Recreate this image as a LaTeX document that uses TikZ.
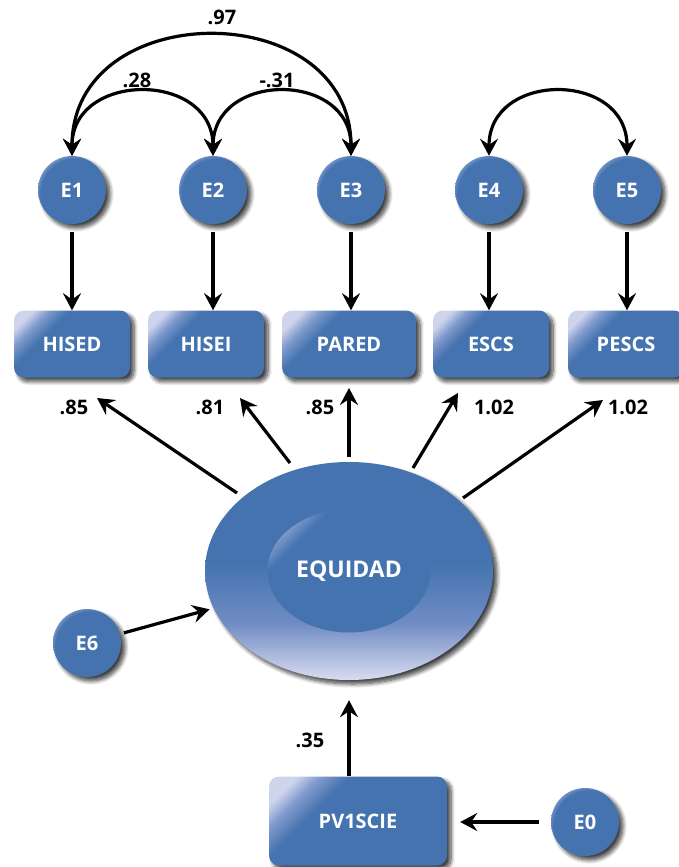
\documentclass[tikz,border=0pt]{standalone}
\usepackage{fontspec}
\setmainfont{Open Sans}
\usetikzlibrary{arrows.meta,shapes.geometric,shadows.blur,calc}

\definecolor{mainblue}{RGB}{68,115,175}
\definecolor{lightblue}{RGB}{205,212,236}
\definecolor{softblue}{RGB}{130,155,205}
\definecolor{rimblue}{RGB}{150,170,215}
\definecolor{midblue}{RGB}{112,140,196}
\definecolor{ellbot}{RGB}{216,220,240}

\pgfdeclareradialshading{ballshade}{\pgfpoint{6bp}{-6bp}}{color(0bp)=(mainblue); color(26bp)=(mainblue); color(31bp)=(rimblue); color(50bp)=(lightblue)}
\pgfdeclarehorizontalshading{boxshade}{100bp}{color(0bp)=(lightblue); color(22bp)=(lightblue); color(28bp)=(softblue); color(36bp)=(mainblue); color(100bp)=(mainblue)}
\pgfdeclarehorizontalshading{innershade}{100bp}{color(0bp)=(rimblue); color(22bp)=(rimblue); color(30bp)=(mainblue); color(100bp)=(mainblue)}
\pgfdeclareverticalshading{ellshade}{100bp}{color(0bp)=(ellbot); color(25bp)=(ellbot); color(38bp)=(midblue); color(52bp)=(mainblue); color(100bp)=(mainblue)}

\tikzset{
  shadowed/.style={blur shadow={shadow xshift=4pt, shadow yshift=-4pt, shadow blur radius=4pt, shadow blur steps=8, shadow opacity=75}},
  errnode/.style={circle, minimum size=68pt, inner sep=0pt, shading=ballshade, text=white,
    font=\bfseries\fontsize{20}{20}\selectfont, shadowed},
  obsbox/.style={rectangle, rounded corners=10pt, minimum width=116pt, minimum height=67pt, inner sep=0pt,
    shading=boxshade, shading angle=-45, text=white, font=\bfseries\fontsize{20}{20}\selectfont, shadowed},
  lab/.style={font=\bfseries\fontsize{20}{20}\selectfont, text=black, inner sep=0pt},
  arr/.style={line width=3.2pt, -{Stealth[length=17pt,width=18pt,inset=6pt]}},
  arrboth/.style={line width=3.2pt, {Stealth[length=17pt,width=18pt,inset=6pt]}-{Stealth[length=17pt,width=18pt,inset=6pt]}},
}

\begin{document}
\begin{tikzpicture}[x=1pt,y=-1pt]
\useasboundingbox (0,0) rectangle (679,867);

% error circles
\node[errnode] (e1) at (72,190) {E1};
\node[errnode] (e2) at (213,190) {E2};
\node[errnode] (e3) at (351,190) {E3};
\node[errnode] (e4) at (489,190) {E4};
\node[errnode] (e5) at (627,190) {E5};
\node[errnode] (e6) at (87,643) {E6};
\node[errnode] (e0) at (585,822) {E0};

% observed boxes
\node[obsbox] (hised) at (72,344) {HISED};
\node[obsbox] (hisei) at (206,344) {HISEI};
\node[obsbox, minimum width=134pt] (pared) at (349,344) {PARED};
\node[obsbox] (escs) at (491,344) {ESCS};
\node[obsbox] (pescs) at (626,344) {PESCS};
\node[obsbox, minimum width=178pt, minimum height=89pt, font=\bfseries\fontsize{20}{20}\selectfont] (pv) at (358,821) {PV1SCIE};

% latent
\node[ellipse, minimum width=288pt, minimum height=218pt, shading=ellshade, shadowed] (eq) at (349,571) {};
\node[ellipse, minimum width=163pt, minimum height=123pt, shading=innershade, shading angle=-45,
  text=white, font=\bfseries\fontsize{23}{23}\selectfont] (eqin) at (349,571) {EQUIDAD};

% covariances
\draw[arrboth] (e1.north) .. controls +(0,-85) and +(0,-85) .. (e2.north);
\draw[arrboth] (e2.north) .. controls +(0,-85) and +(0,-85) .. (e3.north);
\draw[arrboth] (e1.north) .. controls +(0,-160) and +(0,-160) .. (e3.north);
\draw[arrboth] (e4.north) .. controls +(0,-85) and +(0,-85) .. (e5.north);
\node[lab] (c97) at (222,17) {.97};
\node[lab] (c28) at (137,80) {.28};
\node[lab] (c31) at (277,80) {-.31};

% error -> observed
\draw[arr, shorten <=8pt] (e1) -- (e1 |- hised.north);
\draw[arr, shorten <=8pt] (e2) -- (e2 |- hisei.north);
\draw[arr, shorten <=8pt] (e3) -- (e3 |- pared.north);
\draw[arr, shorten <=8pt] (e4) -- (e4 |- escs.north);
\draw[arr, shorten <=8pt] (e5) -- (e5 |- pescs.north);

% latent -> observed
\coordinate (s1) at (237,493); \coordinate (t1) at (97,398);
\coordinate (s2) at (290,463); \coordinate (t2) at (240,398);
\coordinate (s3) at (349,457); \coordinate (t3) at (349,388);
\coordinate (s4) at (413,468); \coordinate (t4) at (458,393);
\coordinate (s5) at (463,498); \coordinate (t5) at (603,400);
\draw[arr] (s1) -- (t1);
\draw[arr] (s2) -- (t2);
\draw[arr] (s3) -- (t3);
\draw[arr] (s4) -- (t4);
\draw[arr] (s5) -- (t5);
\node[lab] (l1) at (74,407) {.85};
\node[lab] (l2) at (210,407) {.81};
\node[lab] (l3) at (320,407) {.85};
\node[lab] (l4) at (494,407) {1.02};
\node[lab] (l5) at (628,407) {1.02};

% E6 -> latent
\draw[arr, shorten <=4pt, shorten >=4pt] (e6) -- (eq);

% PV1SCIE -> latent
\draw[arr, shorten >=20pt] (eq |- pv.north) -- (eq.south);
\node[lab] (l35) at (310,740) {.35};

% E0 -> PV1SCIE
\draw[arr, shorten <=12pt, shorten >=13pt] (e0.west) -- (pv.east |- e0.west);
\end{tikzpicture}
\end{document}
